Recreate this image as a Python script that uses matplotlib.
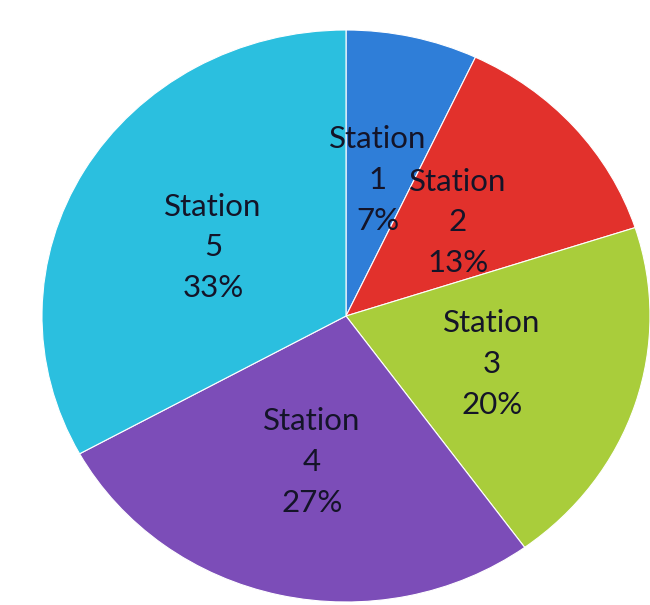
import matplotlib
matplotlib.use("Agg")
import matplotlib.pyplot as plt

categories = ["Station 1", "Station 2", "Station 3", "Station 4", "Station 5"]
values = [7, 13, 20, 27, 33]
colors = ["#2F7ED8", "#E2312C", "#A9CD3B", "#7C4DB8", "#2BBFDF"]

# label anchor positions (data coords, pie radius 1)
label_pos = [(0.105, 0.476), (0.368, 0.328), (0.48, -0.168), (-0.112, -0.51), (-0.4375, 0.24)]

fig = plt.figure(figsize=(6.5, 6.05), dpi=100)
ax = fig.add_axes([42 / 650, 3 / 605, 608 / 650, 572 / 605])
ax.pie(values, colors=colors, startangle=90, counterclock=False, radius=1,
       wedgeprops=dict(linewidth=0.8, edgecolor="white"))
ax.set_aspect("auto")
ax.set_xlim(-1, 1)
ax.set_ylim(-1, 1)
ax.axis("off")

for cat, v, (x, y) in zip(categories, values, label_pos):
    name, num = cat.split(" ")
    ax.text(x, y, f"{name}\n{num}\n{v}%", ha="center", va="center",
            fontsize=22.5, family="Lato", color="#141428", linespacing=1.55)

fig.savefig("out.png", dpi=100)
